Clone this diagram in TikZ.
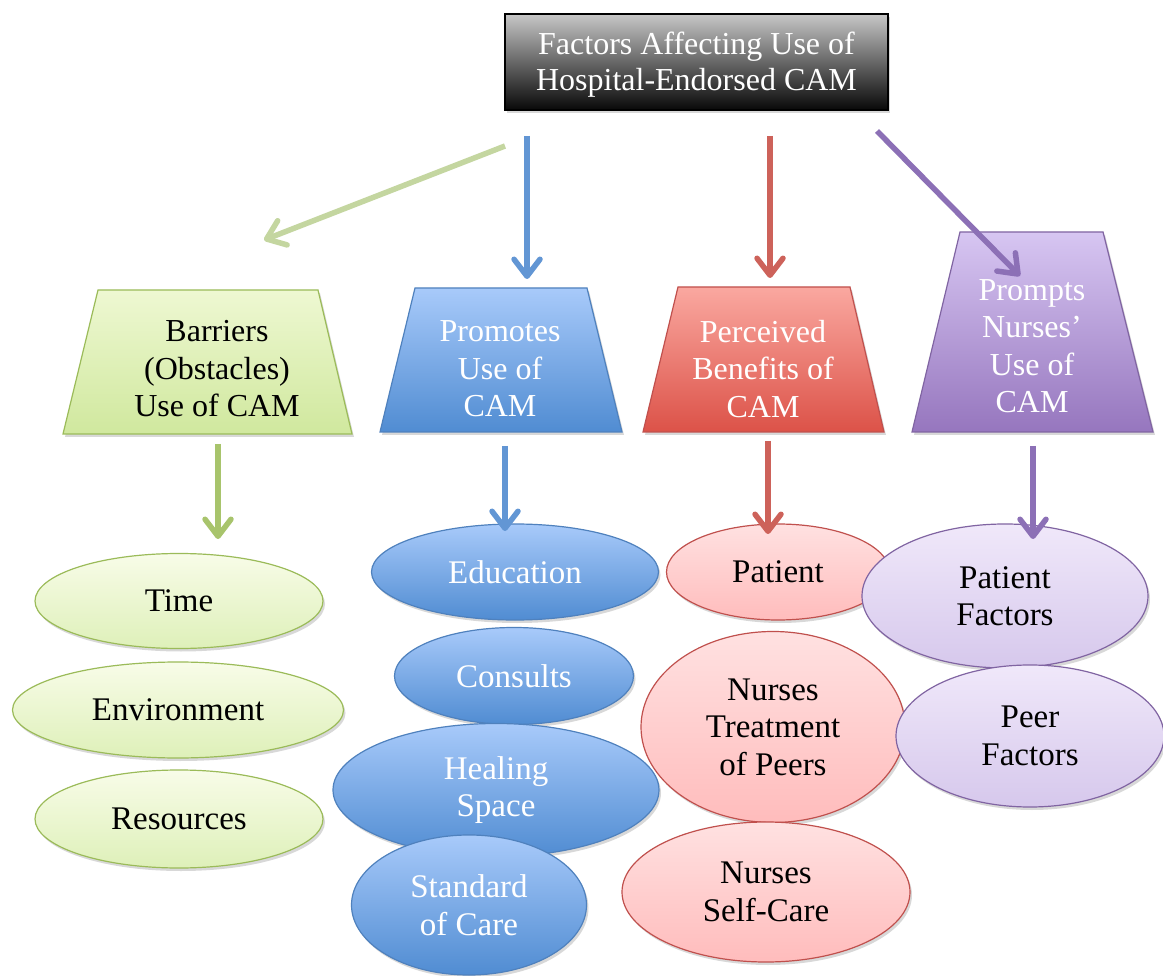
\documentclass[tikz,border=0pt]{standalone}
\usepackage{fontspec}
\setmainfont{Liberation Serif}
\usetikzlibrary{arrows.meta,shapes.geometric,shadows}
\definecolor{gBorder}{RGB}{155,187,89}
\definecolor{gDown}{RGB}{168,196,108}
\definecolor{gArrow}{RGB}{196,214,160}
\definecolor{gTrapT}{RGB}{238,248,210}
\definecolor{gTrapB}{RGB}{208,232,158}
\definecolor{gEllT}{RGB}{248,252,232}
\definecolor{gEllB}{RGB}{222,240,185}
\definecolor{bBorder}{RGB}{79,129,189}
\definecolor{bArrow}{RGB}{98,150,212}
\definecolor{bTop}{RGB}{168,202,250}
\definecolor{bBot}{RGB}{80,140,210}
\definecolor{rBorder}{RGB}{192,80,77}
\definecolor{rArrow}{RGB}{205,98,90}
\definecolor{rTrapT}{RGB}{250,168,160}
\definecolor{rTrapB}{RGB}{220,82,72}
\definecolor{rEllT}{RGB}{255,225,225}
\definecolor{rEllB}{RGB}{255,188,188}
\definecolor{pBorder}{RGB}{128,100,162}
\definecolor{pArrow}{RGB}{140,112,182}
\definecolor{pTrapT}{RGB}{215,198,242}
\definecolor{pTrapB}{RGB}{150,118,190}
\definecolor{pEllT}{RGB}{240,232,250}
\definecolor{pEllB}{RGB}{214,200,236}
\begin{document}
\begin{tikzpicture}[x=1pt,y=-1pt,
  lbl/.style={font=\fontsize{32}{37.5}\selectfont, align=center, inner sep=0pt},
  shad/.style={drop shadow={opacity=0.3,shadow xshift=2pt,shadow yshift=-3pt}},
  arr/.style={line width=5.5pt, -{Straight Barb[length=17pt,width=26pt,round]}},
  ell/.style={ellipse, shad, line width=1.2pt, inner sep=0pt, align=center,
              font=\fontsize{33}{37.5}\selectfont},
  gell/.style={ell, draw=gBorder, top color=gEllT, bottom color=gEllB, text=black},
  bell/.style={ell, draw=bBorder, top color=bTop, bottom color=bBot, text=white},
  rell/.style={ell, draw=rBorder, top color=rEllT, bottom color=rEllB, text=black},
  pell/.style={ell, draw=pBorder, top color=pEllT, bottom color=pEllB, text=black},
  trap/.style={shad, line width=1.2pt}
]
\useasboundingbox[fill=white] (0,0) rectangle (1163,976);

% top box
\node[shad, draw=black, line width=1.2pt, top color=black!22, bottom color=black!97,
      minimum width=383pt, minimum height=96pt, inner sep=0pt, align=center,
      text=white, font=\fontsize{32}{36}\selectfont] (top) at (696.5,62) {};
\node[text=white, align=center, inner sep=0pt, font=\fontsize{32}{36}\selectfont]
      (toptext) at (696.5,65) {Factors Affecting Use of\\Hospital-Endorsed CAM};

% trapezoids
\path[trap, draw=gBorder, top color=gTrapT, bottom color=gTrapB]
  (98,290) -- (318,290) -- (352,434) -- (63,434) -- cycle;
\node[lbl] (barriers) at (217,369) {Barriers\\(Obstacles)\\Use of CAM};

\path[trap, draw=bBorder, top color=bTop, bottom color=bBot]
  (415,288) -- (587,288) -- (622,432) -- (380,432) -- cycle;
\node[lbl, text=white] (promotes) at (500,369) {Promotes\\Use of\\CAM};

\path[trap, draw=rBorder, top color=rTrapT, bottom color=rTrapB]
  (678,287) -- (850,287) -- (884,432) -- (643,432) -- cycle;
\node[lbl, text=white] (benefits) at (763,369) {Perceived\\Benefits of\\CAM};

\path[trap, draw=pBorder, top color=pTrapT, bottom color=pTrapB]
  (960,232) -- (1103,232) -- (1153,432) -- (912,432) -- cycle;
\node[lbl, text=white] (prompts) at (1032,346) {Prompts\\Nurses'\\Use of\\CAM};

% green ellipses
\node[gell, minimum width=288pt, minimum height=95pt] (time) at (179,601) {Time};
\node[gell, minimum width=331pt, minimum height=96pt] (env) at (178,710) {Environment};
\node[gell, minimum width=288pt, minimum height=98pt] (res) at (179,819) {Resources};

% blue ellipses
\node[bell, minimum width=287pt, minimum height=96pt] (edu) at (515,572) {Education};
\node[bell, minimum width=239pt, minimum height=97pt] (cons) at (514,676) {Consults};
\node[bell, minimum width=326pt, minimum height=133pt] (heal) at (496,790) {Healing\\Space};
\node[bell, minimum width=235pt, minimum height=140pt] (std) at (469,905) {Standard\\of Care};

% red ellipses
\node[rell, minimum width=223pt, minimum height=96pt] (pat) at (778,572) {Patient};
\node[rell, minimum width=264pt, minimum height=191pt] (ntp) at (773,727) {Nurses\\Treatment\\of Peers};
\node[rell, minimum width=288pt, minimum height=140pt] (nsc) at (766,892) {Nurses\\Self-Care};

% purple ellipses
\node[pell, minimum width=286pt, minimum height=144pt] (pf) at (1005,596) {Patient\\Factors};
\node[pell, minimum width=268pt, minimum height=142pt] (peer) at (1030,736) {Peer\\Factors};

% top arrows
\coordinate (gS) at (505,146);
\coordinate (gE) at (264,240);
\coordinate (bS) at (527,136);
\coordinate (bE) at (527,279);
\coordinate (rS) at (770,136);
\coordinate (rE) at (770,278);
\coordinate (pS) at (877,131);
\coordinate (pE) at (1020,276);
\draw[arr, gArrow] (gS) -- (gE);
\draw[arr, bArrow] (bS) -- (bE);
\draw[arr, rArrow] (rS) -- (rE);
\draw[arr, pArrow] (pS) -- (pE);

% down arrows
\coordinate (gD1) at (218,444);
\coordinate (gD2) at (218,539);
\coordinate (bD1) at (505,446);
\coordinate (bD2) at (505,531);
\coordinate (rD1) at (768,441);
\coordinate (rD2) at (768,534);
\coordinate (pD1) at (1033,446);
\coordinate (pD2) at (1033,539);
\draw[arr, gDown] (gD1) -- (gD2);
\draw[arr, bArrow] (bD1) -- (bD2);
\draw[arr, rArrow] (rD1) -- (rD2);
\draw[arr, pArrow] (pD1) -- (pD2);
\end{tikzpicture}
\end{document}
